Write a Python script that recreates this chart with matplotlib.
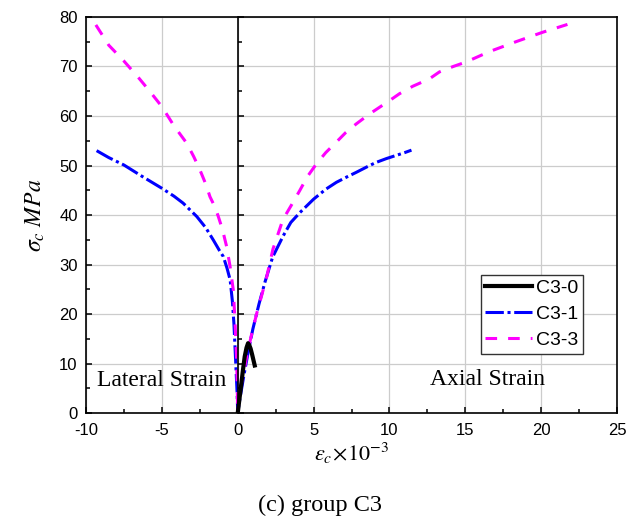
import numpy as np
import matplotlib
matplotlib.use('Agg')
import matplotlib.pyplot as plt
from matplotlib.ticker import MultipleLocator

plt.rcParams['font.family'] = 'Liberation Sans'
plt.rcParams['mathtext.fontset'] = 'stix'
plt.rcParams['axes.unicode_minus'] = False

# C3-0: только осевая деформация
c30_ax_x = [0, 0.1, 0.24, 0.35, 0.46, 0.58, 0.68, 0.75, 0.85, 0.95, 1.05, 1.12]
c30_ax_y = [0, 2.5, 6.0, 8.8, 11.4, 13.2, 14.1, 13.8, 13.0, 11.8, 10.5, 9.6]

# C3-1
c31_lat_x = [-9.3, -8.5, -7.5, -6.3, -5.0, -4.2, -3.6, -2.7, -2.1, -1.6, -1.2,
             -0.95, -0.7, -0.5, -0.35, -0.25, -0.18, -0.1, -0.04, 0]
c31_lat_y = [53.0, 51.6, 50.1, 47.8, 45.4, 43.8, 42.4, 39.7, 37.4, 34.9, 32.8,
             31.6, 29.2, 26.9, 22.5, 18.0, 13.4, 8.0, 4.0, 0]
c31_ax_x = [0, 0.15, 0.4, 0.7, 1.0, 1.4, 1.8, 2.3, 3.0, 3.5, 4.1, 5.0, 5.8,
            6.5, 7.2, 7.8, 8.5, 9.1, 9.8, 10.4, 11.0, 11.45]
c31_ax_y = [0, 3.0, 7.5, 12.5, 17.0, 22.0, 26.5, 31.5, 35.8, 38.5, 40.5, 43.2,
            45.2, 46.6, 47.7, 48.6, 49.7, 50.6, 51.4, 52.0, 52.6, 53.1]

# C3-3
c33_lat_x = [-9.35, -8.5, -7.5, -6.5, -5.8, -5.0, -4.2, -3.36, -2.9, -2.49,
             -2.1, -1.83, -1.5, -1.28, -1.0, -0.73, -0.5, -0.29, -0.18, -0.07, 0]
c33_lat_y = [78.4, 74.3, 71.1, 67.6, 65.0, 61.9, 58.0, 54.5, 51.8, 49.1,
             46.2, 43.7, 41.6, 39.7, 37.0, 33.6, 29.5, 24.8, 18.5, 10.7, 0]
c33_ax_x = [0, 0.15, 0.35, 0.59, 0.9, 1.25, 1.6, 1.91, 2.32, 2.98, 3.5, 4.08,
            4.6, 5.18, 5.8, 6.49, 7.1, 7.81, 8.68, 10.0, 10.66, 11.53, 12.63,
            13.29, 14.2, 15.04, 16.58, 18.33, 20.08, 21.73]
c33_ax_y = [0, 4.6, 7.5, 11.4, 15.7, 20.1, 24.0, 27.5, 33.1, 39.1, 41.8, 44.9,
            47.8, 50.3, 52.6, 54.7, 56.6, 58.4, 60.4, 63.1, 64.5, 66.0, 67.5,
            68.9, 70.0, 70.9, 73.0, 75.0, 76.9, 78.5]

fig = plt.figure(figsize=(6.37, 5.23), dpi=100)
ax = fig.add_axes([0.135, 0.2103, 0.8337, 0.7572])

ax.plot(c30_ax_x, c30_ax_y, color='black', lw=3.0, label='C3-0', zorder=4)
ax.plot(c31_lat_x[:-1] + c31_ax_x, c31_lat_y[:-1] + c31_ax_y, color='blue',
        lw=2.2, dashes=(6, 1.2, 1, 1.2), label='C3-1', zorder=3)
ax.plot(c33_lat_x[:-1] + c33_ax_x, c33_lat_y[:-1] + c33_ax_y, color='magenta',
        lw=2.2, dashes=(3.8, 3.6), label='C3-3', zorder=3)

ax.set_xlim(-10, 25)
ax.set_ylim(0, 80)
ax.xaxis.set_major_locator(MultipleLocator(5))
ax.xaxis.set_minor_locator(MultipleLocator(2.5))
ax.yaxis.set_major_locator(MultipleLocator(10))
ax.yaxis.set_minor_locator(MultipleLocator(5))
ax.grid(True, which='major', color='#cccccc', lw=0.9, zorder=0)
ax.set_axisbelow(True)
ax.tick_params(which='both', direction='in', top=False, right=False,
               labelsize=12, width=1.1)
ax.tick_params(which='major', length=4.5)
ax.tick_params(which='minor', length=3)
ax.tick_params(axis='x', pad=7)
ax.tick_params(axis='y', pad=6)
for s in ax.spines.values():
    s.set_linewidth(1.2)

# вертикальная ось в нуле с засечками вправо
ax2 = ax.twinx()
ax2.set_ylim(0, 80)
ax2.yaxis.set_major_locator(MultipleLocator(10))
ax2.yaxis.set_minor_locator(MultipleLocator(5))
ax2.spines['right'].set_position(('axes', 10 / 35))
ax2.spines['right'].set_linewidth(1.2)
for k in ['left', 'top', 'bottom']:
    ax2.spines[k].set_visible(False)
ax2.tick_params(which='both', direction='out', labelright=False, width=1.1)
ax2.tick_params(which='major', length=4.5)
ax2.tick_params(which='minor', length=3)

ax.set_xlabel(r'$\varepsilon_c\!\times\!10^{-3}$', fontsize=16, labelpad=2)
ax.set_ylabel(r'$\sigma_c\ MPa$', fontsize=17, labelpad=9)

ax.text(-9.27, 6.5, 'Lateral Strain', family='Liberation Serif', fontsize=17,
        ha='left', va='center')
ax.text(16.43, 6.7, 'Axial Strain', family='Liberation Serif', fontsize=17,
        ha='center', va='center')

leg = ax.legend(loc='upper right', bbox_to_anchor=(0.936, 0.349),
                borderaxespad=0, fontsize=14, handlelength=2.4,
                handletextpad=0.2, labelspacing=0.42, borderpad=0.25,
                fancybox=False, framealpha=1)
leg.get_frame().set_edgecolor('#333333')
leg.get_frame().set_linewidth(1.0)
leg.set_zorder(5)

fig.text(0.502, 0.034, '(c) group C3', family='Liberation Serif', fontsize=17.5,
         ha='center', va='center')

fig.savefig('out.png', dpi=100)
